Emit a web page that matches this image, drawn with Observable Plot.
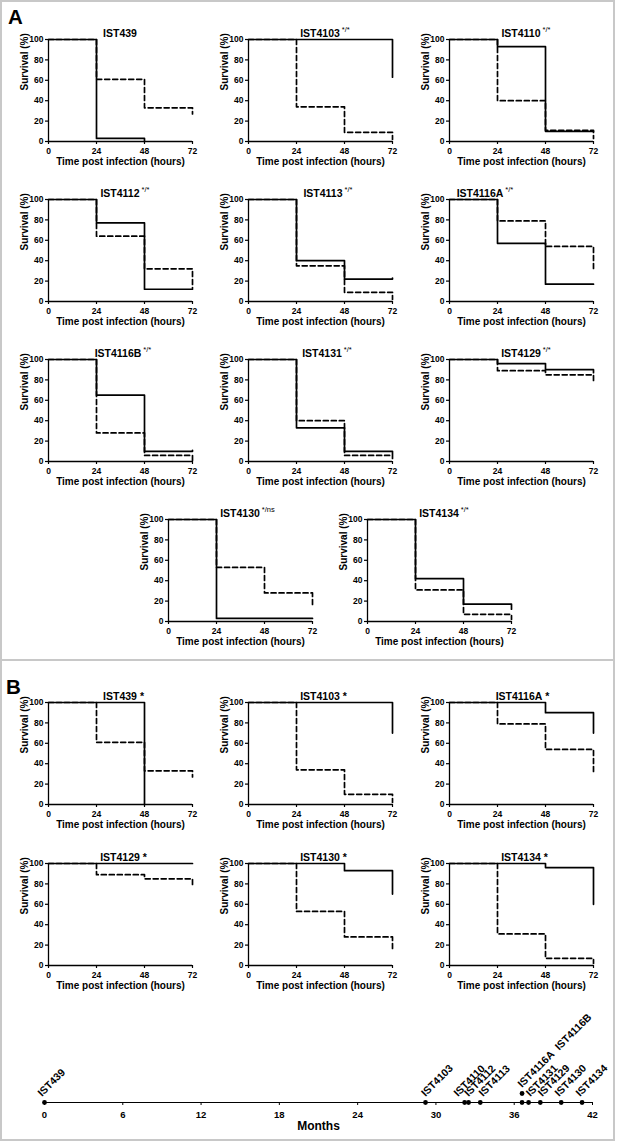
<!DOCTYPE html>
<html>
<head>
<meta charset="utf-8">
<script src="https://cdn.jsdelivr.net/npm/d3@7"></script>
<script src="https://cdn.jsdelivr.net/npm/@observablehq/plot@0.6"></script>
<style>
  body { margin: 0; background: #fff; }
  #fig { position: relative; width: 618px; height: 1141px; background: #fff; overflow: hidden;
         font-family: "Liberation Sans", Arial, Helvetica, sans-serif; color: #000; }
  .frame { position: absolute; box-sizing: border-box; border: 2px solid #c8c8c8; }
  .hline { position: absolute; background: #c8c8c8; }
  .panelLetter { position: absolute; font-weight: bold; font-size: 20.5px; line-height: 20.5px; }
  .title { position: absolute; font-weight: bold; font-size: 10.5px; line-height: 10.5px; white-space: nowrap;
           transform: translateX(-50%); }
  .title .sup { position: absolute; left: 100%; top: -1.8px; margin-left: 2px; font-size: 7.5px; line-height: 7.5px; font-weight: normal; }
  .title .star { position: absolute; left: 100%; top: 0; margin-left: 3px; font-size: 10.5px; line-height: 10.5px; font-weight: bold; }
</style>
</head>
<body>
<div id="fig"></div>
<script>
// ---------------- DATA ----------------
const hours = [0, 24, 48, 72];
const xTicks = [0, 24, 48, 72];
const yTicks = [0, 20, 40, 60, 80, 100];
const monthTicks = [0, 6, 12, 18, 24, 30, 36, 42];

// Panel A (survival % at 0, 24, 48 h and end value at 72 h)
const panelANames = ["IST439", "IST4103", "IST4110", "IST4112", "IST4113", "IST4116A",
                     "IST4116B", "IST4131", "IST4129", "IST4130", "IST4134"];
const panelAMarks = ["", "*/*", "*/*", "*/*", "*/*", "*/*", "*/*", "*/*", "*/*", "*/ns", "*/*"];
const panelASolid = [
  [100, 3, 0],
  [100, 100, 100, 63],
  [100, 93, 10, 10],
  [100, 77, 12, 12],
  [100, 40, 22, 23],
  [100, 57, 17, 17],
  [100, 65, 10, 11],
  [100, 33, 10, 3],
  [100, 96, 90, 87],
  [100, 3, 3, 3],
  [100, 42, 17, 12]
];
const panelADashed = [
  [100, 61, 33, 27],
  [100, 34, 9, 2],
  [100, 40, 11, 3],
  [100, 64, 32, 13],
  [100, 35, 9, 2],
  [100, 79, 54, 32],
  [100, 28, 6, 1],
  [100, 40, 6, 6],
  [100, 89, 85, 78],
  [100, 53, 28, 16],
  [100, 31, 7, 2]
];

// Panel B
const panelBNames = ["IST439", "IST4103", "IST4116A", "IST4129", "IST4130", "IST4134"];
const panelBMarks = ["*", "*", "*", "*", "*", "*"];
const panelBSolid = [
  [100, 100, 0],
  [100, 100, 100, 70],
  [100, 100, 90, 70],
  [100, 100, 100, 100],
  [100, 100, 93, 70],
  [100, 100, 96, 60]
];
const panelBDashed = [
  [100, 61, 33, 27],
  [100, 34, 10, 2],
  [100, 79, 54, 32],
  [100, 89, 85, 79],
  [100, 53, 28, 15],
  [100, 31, 7, 2]
];

// Timeline (months)
const timelineNames  = ["IST439", "IST4103", "IST4110", "IST4112", "IST4113", "IST4116A", "IST4116B",
                        "IST4131", "IST4129", "IST4130", "IST4134"];
const timelineMonths = [0, 29.2, 32.2, 32.5, 33.4, 36.6, 36.6, 37.1, 38.0, 39.6, 41.2];
const timelineLevel  = [0, 0, 0, 0, 0, 0, 1, 0, 0, 0, 0];
const timelineLabels = ["IST439", "IST4103", "IST4110", "IST4112", "IST4113", "",
                        "IST4116A\u00a0\u00a0IST4116B", "IST4131", "IST4129", "IST4130", "IST4134"];

// ---------------- LAYOUT ----------------
const FONT = '"Liberation Sans", Arial, Helvetica, sans-serif';
const fig = document.getElementById("fig");

// panel origins: [x of 0 h, y of 100 %, title shift]
const layoutA = [
  [48, 39, 0], [248, 39, 0], [449, 39, 0],
  [48, 199, 0], [248, 199, 3], [449, 199, -41],
  [48, 359, -2], [248, 359, 2], [449, 359, 0],
  [168, 519, 0], [367, 519, 0]
];
const layoutB = [
  [48, 702, 0], [248, 702, 0], [449, 702, -2],
  [48, 863, 0], [248, 863, 0], [449, 863, 0]
];
// horizontal nudge (px) of each timeline label
const timelineLabelNudge = [-2.6, 0, -6.7, 0, 2.7, 0, 0, 1.7, 2, -2.3, -2];
const PX_PER_MONTH = 548 / 42;

function addDiv(cls, css, html) {
  const d = document.createElement("div");
  d.className = cls;
  Object.assign(d.style, css);
  if (html != null) d.innerHTML = html;
  fig.appendChild(d);
  return d;
}

// frame
addDiv("frame", {left: "0px", top: "0px", width: "615px", height: "1141px"});
addDiv("hline", {left: "0px", top: "659px", width: "615px", height: "2px"});
addDiv("panelLetter", {left: "8px", top: "7px"}, "A");
addDiv("panelLetter", {left: "6px", top: "677px"}, "B");

function survivalPlot(solid, dashed) {
  const pts = vals => vals.map((v, i) => ({t: hours[i], s: v}));
  return Plot.plot({
    width: 204, height: 142,
    marginLeft: 48, marginRight: 12, marginTop: 10, marginBottom: 30,
    style: {fontFamily: FONT, fontSize: "8.5px", fontWeight: "bold", background: "transparent", color: "#000", overflow: "visible"},
    x: {domain: [0, 72]},
    y: {domain: [0, 100]},
    marks: [
      Plot.axisX({ticks: xTicks, tickSize: 3, tickPadding: 3, label: null, strokeWidth: 1.2}),
      Plot.axisY({ticks: yTicks, tickSize: 3, tickPadding: 2, label: null, strokeWidth: 1.2}),
      Plot.ruleX([0], {y1: 0, y2: 100, stroke: "#000", strokeWidth: 1.3}),
      Plot.ruleY([0], {x1: 0, x2: 72, stroke: "#000", strokeWidth: 1.3}),
      Plot.line(pts(dashed), {x: "t", y: "s", curve: "step-after", stroke: "#000", strokeWidth: 1.7, strokeDasharray: "5,3"}),
      Plot.line(pts(solid), {x: "t", y: "s", curve: "step-after", stroke: "#000", strokeWidth: 1.7}),
      Plot.text(["Time post infection (hours)"], {text: d => d, frameAnchor: "bottom", dy: 20, lineAnchor: "middle",
        fontSize: 10, fontWeight: "bold", fill: "#000"}),
      Plot.text(["Survival (%)"], {text: d => d, frameAnchor: "left", dx: -24, rotate: -90, lineAnchor: "middle",
        fontSize: 10, fontWeight: "bold", fill: "#000"})
    ]
  });
}

function placePanel(x0, y100, shift, name, mark, solid, dashed, starStyle) {
  const svg = survivalPlot(solid, dashed);
  svg.style.position = "absolute";
  svg.style.left = (x0 - 48) + "px";
  svg.style.top = (y100 - 10) + "px";
  fig.appendChild(svg);
  const cx = x0 + 72 + shift;
  const markHtml = mark ? (starStyle ? `<span class="star">${mark}</span>` : `<span class="sup">${mark}</span>`) : "";
  addDiv("title", {left: cx + "px", top: (y100 - 2.4 - 8.9) + "px"}, `${name}${markHtml}`);
}

panelANames.forEach((n, i) => {
  const [x0, y, s] = layoutA[i];
  placePanel(x0, y, s, n, panelAMarks[i], panelASolid[i], panelADashed[i], false);
});
panelBNames.forEach((n, i) => {
  const [x0, y, s] = layoutB[i];
  placePanel(x0, y, s, n, panelBMarks[i], panelBSolid[i], panelBDashed[i], true);
});

// Timeline
const tl = timelineNames.map((n, i) => ({name: n, m: timelineMonths[i], level: timelineLevel[i],
  label: timelineLabels[i], nudge: timelineLabelNudge[i]}));
const tlPlot = Plot.plot({
  width: 594, height: 108,
  marginLeft: 20, marginRight: 26, marginTop: 72, marginBottom: 36,
  style: {fontFamily: FONT, fontSize: "9.5px", fontWeight: "bold", background: "transparent", color: "#000", overflow: "visible"},
  x: {domain: [0, 42]},
  y: {domain: [0, 1], range: [72, 63], axis: null},
  marks: [
    Plot.ruleY([0], {x1: 0, x2: 42, stroke: "#000", strokeWidth: 1.1}),
    Plot.axisX({ticks: monthTicks, tickSize: 3, tickPadding: 6, label: null}),
    Plot.dot(tl, {x: "m", y: "level", r: 2.4, fill: "#000", stroke: "none"}),
    Plot.text(tl.filter(d => d.label), {x: d => d.m + d.nudge / PX_PER_MONTH, y: "level", text: "label", rotate: -45,
      textAnchor: "start", lineAnchor: "bottom", dx: 0, dy: -5.5, fontSize: 10.5, fontWeight: "bold", fill: "#000"}),
    Plot.text(["Months"], {text: d => d, frameAnchor: "bottom", dy: 24, lineAnchor: "middle",
      fontSize: 12, fontWeight: "bold", fill: "#000"})
  ]
});
tlPlot.style.position = "absolute";
tlPlot.style.left = "24px";
tlPlot.style.top = "1030px";
fig.appendChild(tlPlot);
</script>
</body>
</html>
